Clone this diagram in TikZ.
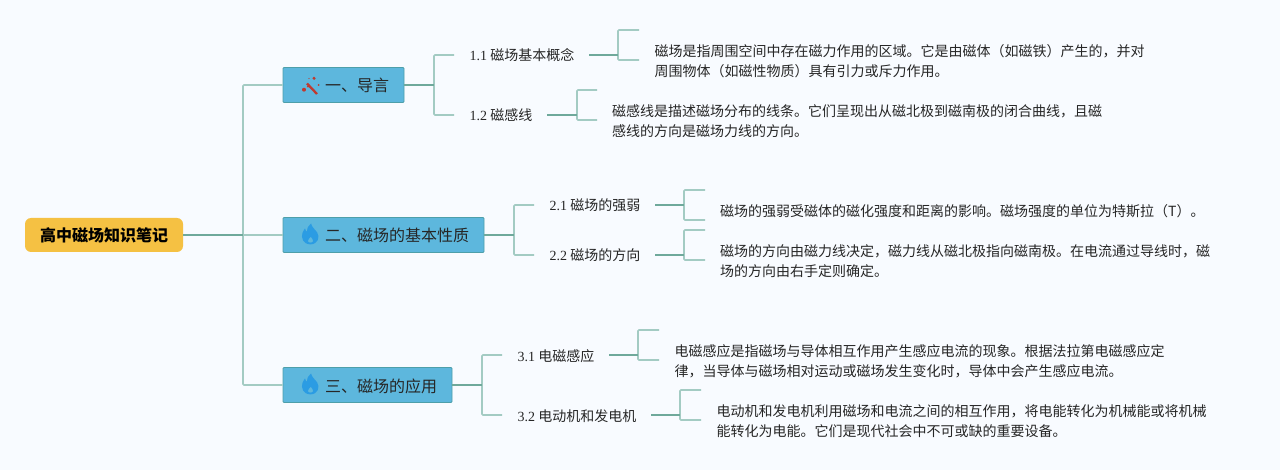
\documentclass[tikz,border=0pt]{standalone}
\usepackage{fontspec}
\setmainfont{Liberation Serif}
\newfontfamily\cjk{Noto Sans CJK SC}
\definecolor{bgc}{HTML}{F8FBFF}
\definecolor{rootc}{HTML}{F5C143}
\definecolor{boxc}{HTML}{5DB7DD}
\definecolor{boxl}{HTML}{4E9FAA}
\definecolor{dark}{HTML}{6FA99B}
\definecolor{light}{HTML}{A3CBC3}
\definecolor{ink}{HTML}{262626}
\definecolor{flame}{HTML}{2B9CE3}
\definecolor{wand}{HTML}{BF3A30}
\newcommand{\flameicon}[2]{%
  \fill[flame,even odd rule,shift={(#1,#2)},scale=1.1]
    (0.5,-10) .. controls (1.5,-6) and (4,-5) .. (6,-2)
    .. controls (8.8,2) and (7,8.8) .. (0,9)
    .. controls (-6.8,8.8) and (-8.8,3) .. (-7.3,-1.5)
    .. controls (-6.3,-4) and (-5.5,-4.5) .. (-5,-5.5)
    .. controls (-4.5,-3.5) and (-4,-3) .. (-3,-2.5)
    .. controls (-3.5,-6) and (-1.5,-8.5) .. (0.5,-10) -- cycle
    (0.3,2) .. controls (-0.7,3.5) and (-2.6,4.4) .. (-2.4,6)
    .. controls (-2,7.8) and (2,7.8) .. (2.4,6)
    .. controls (2.6,4.4) and (1.2,3.5) .. (0.3,2) -- cycle;}
\tikzset{
  x=1pt,y=-1pt,
  rootbox/.style={draw=none,fill=rootc,rounded corners=6pt,minimum width=158pt,minimum height=34pt,inner sep=0pt,text height=14pt,text depth=0pt,text=black,font=\cjk\fontsize{16}{20}\selectfont\bfseries},
  mainbox/.style={draw=boxl,line width=0.8pt,fill=boxc,rounded corners=1pt,minimum height=35pt,inner sep=0pt,text height=14pt,text depth=0pt,align=left,text=ink,font=\cjk\fontsize{16}{20}\selectfont},
  lab/.style={inner sep=0pt,anchor=west,text height=12pt,text depth=0pt,align=left,text=ink,font=\fontsize{14}{20}\selectfont},
  leaf/.style={inner sep=0pt,anchor=west,align=left,text=ink,font=\cjk\fontsize{14}{20}\selectfont},
  darkline/.style={draw=dark,line width=1.7pt},
  lightline/.style={draw=light,line width=1.6pt,rounded corners=1pt},
}
\newcommand{\lb}[2]{\hspace*{15.5pt}#1\hspace{3.2pt}{\cjk #2}}
\newcommand{\mb}[1]{\hspace*{42pt}#1}
\begin{document}
\begin{tikzpicture}
\useasboundingbox (0,0) rectangle (1280,470);
\fill[bgc] (0,0) rectangle (1280,470);

\coordinate (j0) at (243,235);
\coordinate (j1) at (434,85);
\coordinate (j2) at (514,235);
\coordinate (j3) at (482,385);

\node[rootbox] (root) at (104,235) {高中磁场知识笔记};
\node[mainbox,text width=121pt] (m1) at (343.5,85) {\mb{一、导言}};
\node[mainbox,text width=201pt] (m2) at (383.5,235) {\mb{二、磁场的基本性质}};
\node[mainbox,text width=169pt] (m3) at (367.5,385) {\mb{三、磁场的应用}};

\node[lab,text width=135pt] (l11) at (454,55) {\lb{1.1}{磁场基本概念}};
\node[lab,text width=93pt]  (l12) at (454,115) {\lb{1.2}{磁感线}};
\node[lab,text width=121pt] (l21) at (534,205) {\lb{2.1}{磁场的强弱}};
\node[lab,text width=121pt] (l22) at (534,255) {\lb{2.2}{磁场的方向}};
\node[lab,text width=107pt] (l31) at (502,355) {\lb{3.1}{电磁感应}};
\node[lab,text width=149pt] (l32) at (502,415) {\lb{3.2}{电动机和发电机}};

\node[leaf] (t11) at (654.5,61.5) {磁场是指周围空间中存在磁力作用的区域。它是由磁体（如磁铁）产生的，并对\\周围物体（如磁性物质）具有引力或斥力作用。};
\node[leaf] (t12) at (612,121.5) {磁感线是描述磁场分布的线条。它们呈现出从磁北极到磁南极的闭合曲线，且磁\\感线的方向是磁场力线的方向。};
\node[leaf] (t21) at (720,211.5) {磁场的强弱受磁体的磁化强度和距离的影响。磁场强度的单位为特斯拉（T）。};
\node[leaf] (t22) at (720,261.5) {磁场的方向由磁力线决定，磁力线从磁北极指向磁南极。在电流通过导线时，磁\\场的方向由右手定则确定。};
\node[leaf] (t31) at (674.5,361.5) {电磁感应是指磁场与导体相互作用产生感应电流的现象。根据法拉第电磁感应定\\律，当导体与磁场相对运动或磁场发生变化时，导体中会产生感应电流。};
\node[leaf] (t32) at (716.5,421.5) {电动机和发电机利用磁场和电流之间的相互作用，将电能转化为机械能或将机械\\能转化为电能。它们是现代社会中不可或缺的重要设备。};

\coordinate (b11) at (618,55); \coordinate (e11a) at (639,30); \coordinate (e11b) at (639,60);
\coordinate (b12) at (577,115); \coordinate (e12a) at (597,90); \coordinate (e12b) at (597,120);
\coordinate (b21) at (684,205); \coordinate (e21a) at (705,190); \coordinate (e21b) at (705,220);
\coordinate (b22) at (684,255); \coordinate (e22a) at (705,230); \coordinate (e22b) at (705,260);
\coordinate (b31) at (638,355); \coordinate (e31a) at (659,330); \coordinate (e31b) at (659,360);
\coordinate (b32) at (680,415); \coordinate (e32a) at (701,390); \coordinate (e32b) at (701,420);

\draw[lightline] (m1.west) -| (j0) |- (m3.west);
\draw[lightline] (j0) -- (m2.west);
\draw[darkline] (root.east) -- (j0);

\foreach \m/\j/\a/\b in {m1/j1/l11/l12,m2/j2/l21/l22,m3/j3/l31/l32}{
  \draw[lightline] (\a.west) -| (\j) |- (\b.west);
  \draw[darkline] (\m.east) -- (\j);
}

\foreach \l in {11,12,21,22,31,32}{
  \draw[lightline] (e\l a) -| (b\l) |- (e\l b);
  \draw[darkline] (l\l.east) -- (b\l);
}

\draw[wand,line width=2.3pt] (307,83.5) -- (317,94);
\fill[wand] (314,78.3) circle (1.7pt) (304,89.7) circle (2pt) (308,86.5) circle (1.1pt) (318.7,85) circle (1pt) (309,78.5) circle (0.6pt);
\flameicon{310.5}{234.5}
\flameicon{310.5}{384.5}
\end{tikzpicture}
\end{document}
